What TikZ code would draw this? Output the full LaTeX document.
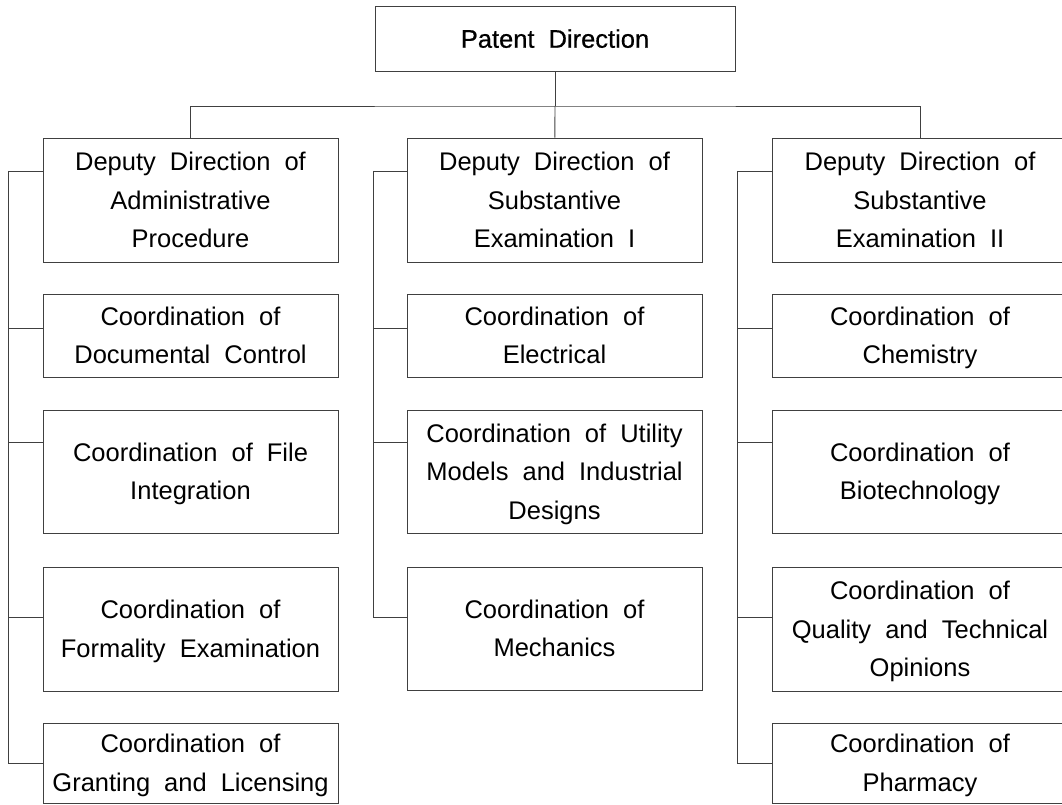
\documentclass[tikz,border=0pt]{standalone}
\usepackage{fontspec}
\setmainfont{Liberation Sans}
\newfontfamily\headfam[FakeBold=0.6]{Liberation Sans}
\usetikzlibrary{positioning}
\newcommand{\unitfont}{\fontsize{25.5}{38.5}\selectfont\spaceskip=0.55em plus 0.1em\relax}
\newcommand{\headfont}{\headfam\fontsize{25.5}{30}\selectfont\spaceskip=0.55em plus 0.1em\relax}
\tikzstyle{unit} = [draw=black!75, line width=0.9pt, rectangle,
    minimum width=295pt, inner sep=0pt, align=center, font=\unitfont,
    text depth=-7pt]
\tikzstyle{head} = [unit, minimum width=360pt, minimum height=65pt, font=\headfont,
    text depth=-3pt]
\tikzstyle{wire} = [draw=black!75, line width=0.9pt]

\begin{document}
\begin{tikzpicture}[x=1pt, y=-1pt]
    \useasboundingbox (0,0) rectangle (1062,805);
    \node [head] (patent) at (555,38.5) {Patent Direction};
    % first column
    \node [unit, minimum height=124pt] (admin) at (190.5,200) {Deputy Direction of\\Administrative\\Procedure};
    \node [unit, minimum height=83pt] (docctl) at (190.5,335.5) {Coordination of\\Documental Control};
    \node [unit, minimum height=123pt] (files) at (190.5,471.5) {Coordination of File\\Integration};
    \node [unit, minimum height=124pt] (formal) at (190.5,629) {Coordination of\\Formality Examination};
    \node [unit, minimum height=80pt] (grant) at (190.5,763) {Coordination of\\Granting and Licensing};
    % second column
    \node [unit, minimum height=124pt] (subst1) at (554.5,200) {Deputy Direction of\\Substantive\\Examination I};
    \node [unit, minimum height=83pt] (elec) at (554.5,335.5) {Coordination of\\Electrical};
    \node [unit, minimum height=123pt] (utility) at (554.5,471.5) {Coordination of Utility\\Models and Industrial\\Designs};
    \node [unit, minimum height=123pt] (mech) at (554.5,628.5) {Coordination of\\Mechanics};
    % third column
    \node [unit, minimum height=124pt] (subst2) at (920,200) {Deputy Direction of\\Substantive\\Examination II};
    \node [unit, minimum height=83pt] (chem) at (920,335.5) {Coordination of\\Chemistry};
    \node [unit, minimum height=123pt] (biotech) at (920,471.5) {Coordination of\\Biotechnology};
    \node [unit, minimum height=124pt] (quality) at (920,629) {Coordination of\\Quality and Technical\\Opinions};
    \node [unit, minimum height=80pt] (pharma) at (920,763) {Coordination of\\Pharmacy};
    % top connectors
    \coordinate (bus) at (555,106);
    \draw [wire] (patent) -- (bus);
    \draw [wire] (admin) |- (bus) -| (subst2);
    \draw [wire] (bus) -- (subst1);
    % side trunks
    \coordinate (trunkA) at (8,171);
    \coordinate (trunkB) at (373,171);
    \coordinate (trunkC) at (737,171);
    \draw [wire] (trunkA) -- ++(0,592);
    \draw [wire] (trunkB) -- ++(0,446);
    \draw [wire] (trunkC) -- ++(0,592);
    \foreach \unitname/\y in {admin/171, docctl/328, files/442, formal/617, grant/763}
        \draw [wire] (trunkA |- 0,\y) -- (\unitname.west |- 0,\y);
    \foreach \unitname/\y in {subst1/171, elec/328, utility/442, mech/617}
        \draw [wire] (trunkB |- 0,\y) -- (\unitname.west |- 0,\y);
    \foreach \unitname/\y in {subst2/171, chem/328, biotech/442, quality/617, pharma/763}
        \draw [wire] (trunkC |- 0,\y) -- (\unitname.west |- 0,\y);
\end{tikzpicture}
\end{document}
